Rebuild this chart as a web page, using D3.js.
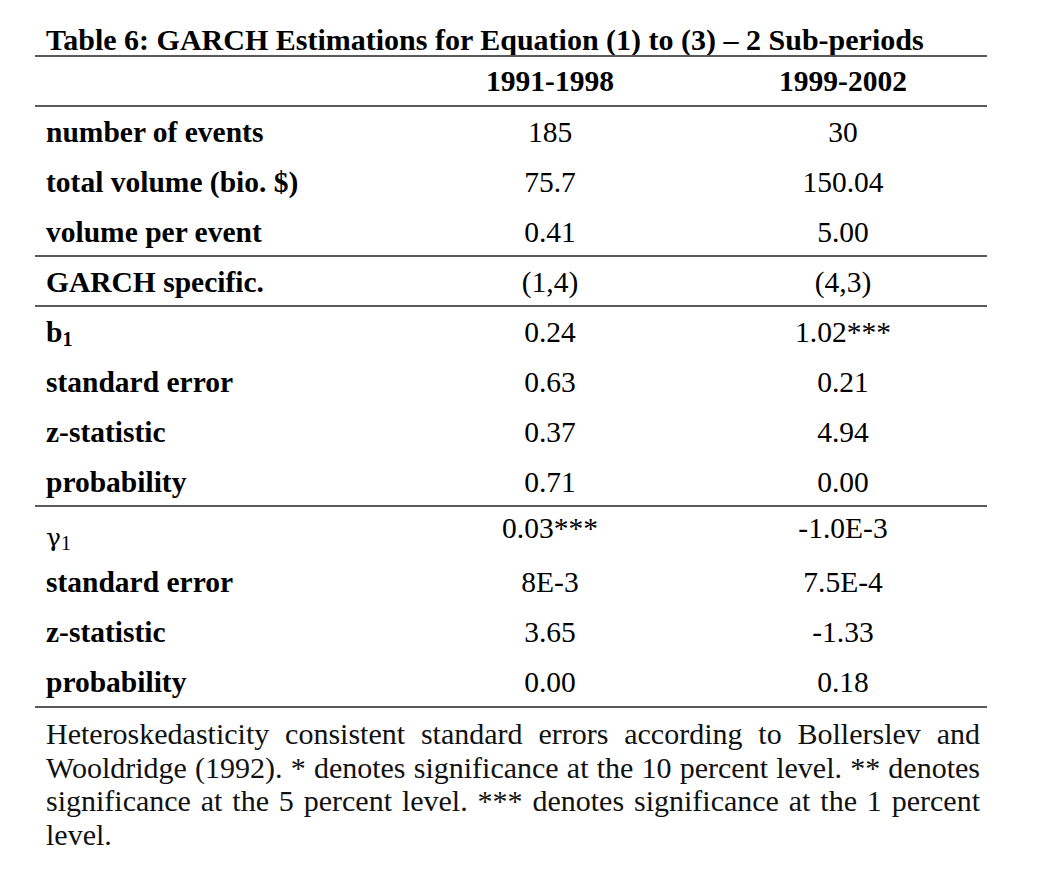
<!DOCTYPE html>
<html>
<head>
<meta charset="utf-8">
<script src="https://cdn.jsdelivr.net/npm/d3@7"></script>
<style>
  html, body { margin: 0; padding: 0; background: #fff; }
  svg { display: block; }
</style>
</head>
<body>
<svg id="chart" width="1037" height="891"></svg>
<script>
const title = "Table 6: GARCH Estimations for Equation (1) to (3) \u2013 2 Sub-periods";
const periods = ["1991-1998", "1999-2002"];
const rowLabels = [
  {main: "number of events"},
  {main: "total volume (bio. $)"},
  {main: "volume per event"},
  {main: "GARCH specific."},
  {main: "b", sub: "1"},
  {main: "standard error"},
  {main: "z-statistic"},
  {main: "probability"},
  {main: "\u03b3", sub: "1", plain: true},
  {main: "standard error"},
  {main: "z-statistic"},
  {main: "probability"}
];
const values1991 = ["185", "75.7", "0.41", "(1,4)", "0.24", "0.63", "0.37", "0.71", "0.03***", "8E-3", "3.65", "0.00"];
const values1999 = ["30", "150.04", "5.00", "(4,3)", "1.02***", "0.21", "4.94", "0.00", "-1.0E-3", "7.5E-4", "-1.33", "0.18"];
const separatorsAfter = [2, 3, 7];
const footnote = "Heteroskedasticity consistent standard errors according to Bollerslev and Wooldridge (1992). * denotes significance at the 10 percent level. ** denotes significance at the 5 percent level. *** denotes significance at the 1 percent level.";

const svg = d3.select("#chart");
const font = "'Liberation Serif', 'Times New Roman', serif";
const left = 35, right = 987;
const labelX = 46;
const lineColor = "#5a5a5a";
const bodySize = 29.5;

const x = d3.scalePoint().domain(periods).range([550, 843]);
const y = d3.scaleLinear().domain([0, rowLabels.length - 1]).range([142, 692]);

// Title
svg.append("text").attr("x", 46).attr("y", 50)
  .attr("font-family", font).attr("font-size", 30).attr("font-weight", "bold")
  .attr("fill", "#000").text(title);

function hline(yy) {
  svg.append("line").attr("x1", left).attr("x2", right).attr("y1", yy).attr("y2", yy)
    .attr("stroke", lineColor).attr("stroke-width", 2);
}
hline(56);
hline(106);

// Header
svg.selectAll("text.head").data(periods).enter().append("text")
  .attr("class", "head")
  .attr("x", d => x(d)).attr("y", 91).attr("text-anchor", "middle")
  .attr("font-family", font).attr("font-size", bodySize).attr("font-weight", "bold")
  .text(d => d);

// Row labels
rowLabels.forEach((r, i) => {
  const t = svg.append("text").attr("x", labelX).attr("y", y(i) + (r.plain ? 4 : 0))
    .attr("font-family", r.plain ? "'DejaVu Serif', " + font : font)
    .attr("font-size", r.plain ? 25 : bodySize)
    .attr("font-weight", r.plain ? "normal" : "bold");
  t.append("tspan").text(r.main);
  if (r.sub) {
    t.append("tspan").attr("font-family", font).attr("font-size", 20).attr("dy", 4).text(r.sub);
  }
});

// Values
[values1991, values1999].forEach((vals, c) => {
  svg.selectAll("text.v" + c).data(vals).enter().append("text")
    .attr("class", "v" + c)
    .attr("x", x(periods[c])).attr("y", (d, i) => y(i) - (i === 8 ? 4 : 0))
    .attr("text-anchor", "middle")
    .attr("font-family", font).attr("font-size", bodySize)
    .text(d => d);
});

// Separators
separatorsAfter.forEach(i => hline((y(i) + y(i + 1)) / 2 - 11));
hline(y(rowLabels.length - 1) + 15);

// Footnote: justified
const fx0 = 46, fx1 = 980, fy0 = 744, lh = 33.6, fsize = 30;
const words = footnote.split(" ");
const meas = svg.append("text").attr("font-family", font).attr("font-size", fsize).attr("visibility", "hidden");
function w(s) { meas.text(s); return meas.node().getComputedTextLength(); }
const spaceW = w("a b") - w("ab");
const lines = [];
let cur = [];
words.forEach(word => {
  const test = cur.concat([word]).join(" ");
  if (cur.length && w(test) > fx1 - fx0) { lines.push(cur); cur = [word]; }
  else cur.push(word);
});
if (cur.length) lines.push(cur);
const widthsAll = lines.map(ln => ln.map(wd => w(wd)));
meas.remove();
lines.forEach((ln, li) => {
  const yy = fy0 + li * lh;
  const last = li === lines.length - 1;
  const widths = widthsAll[li];
  const total = d3.sum(widths);
  const gap = (!last && ln.length > 1) ? (fx1 - fx0 - total) / (ln.length - 1) : spaceW;
  let cx = fx0;
  ln.forEach((word, k) => {
    svg.append("text").attr("x", cx).attr("y", yy)
      .attr("font-family", font).attr("font-size", fsize).attr("fill", "#111").text(word);
    cx += widths[k] + gap;
  });
});
</script>
</body>
</html>
